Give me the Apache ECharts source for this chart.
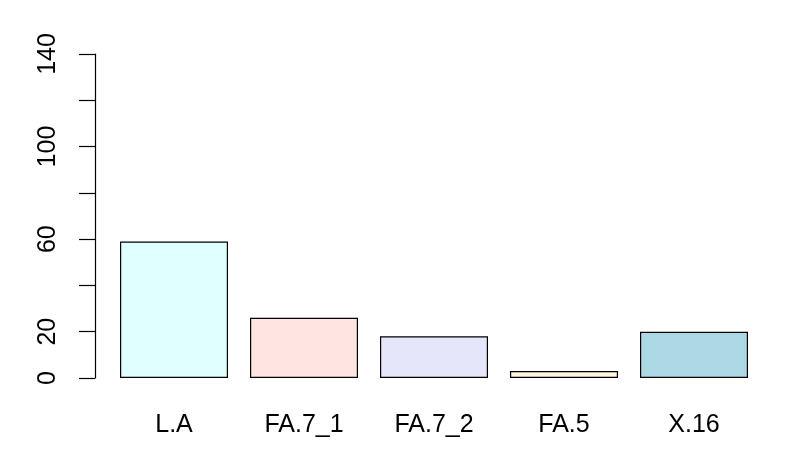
<!DOCTYPE html>
<html>
<head>
<meta charset="utf-8">
<script src="https://cdn.jsdelivr.net/npm/echarts@6/dist/echarts.min.js"></script>
<style>
    html, body {margin: 0; padding: 0; background: #fff;}
    #chart {width: 789px; height: 473px;}
</style>
</head>
<body>
<div id="chart"></div>
<script>
// bar names and heights
const categories = ['L.A', 'FA.7_1', 'FA.7_2', 'FA.5', 'X.16'];
const values = [59, 26, 18, 3, 20];
const barColors = ['#E0FFFF', '#FFE4E1', '#E6E6FA', '#FFF8DC', '#ADD8E6'];
// R skips labels that would overlap, only these get printed
const shownTicks = [0, 20, 60, 100, 140];

const myChart = echarts.init(document.getElementById('chart'));

const option = {
    animation: false,
    backgroundColor: '#ffffff',
    textStyle: {fontFamily: 'Liberation Sans, Arial, sans-serif'},
    grid: {
        left: 109,
        width: 650,
        top: 54,
        bottom: 95
    },
    xAxis: {
        type: 'category',
        data: categories,
        axisLine: {show: false},
        axisTick: {show: false},
        axisLabel: {
            color: '#000',
            fontSize: 25,
            margin: 35
        }
    },
    yAxis: {
        type: 'value',
        min: 0,
        max: 140,
        interval: 20,
        offset: 14,
        splitLine: {show: false},
        axisLine: {show: true, lineStyle: {color: '#000', width: 1.2}},
        axisTick: {show: true, length: 16, lineStyle: {color: '#000', width: 1.2}},
        axisLabel: {
            color: '#000',
            fontSize: 25,
            rotate: 90,
            margin: 34,
            formatter: v => shownTicks.includes(v) ? String(v) : ''
        }
    },
    series: [{
        type: 'bar',
        barWidth: 108,
        data: values.map((v, i) => ({
            value: v,
            itemStyle: {color: barColors[i]}
        })),
        itemStyle: {borderColor: '#000', borderWidth: 1.2}
    }]
};

myChart.setOption(option);
</script>
</body>
</html>
